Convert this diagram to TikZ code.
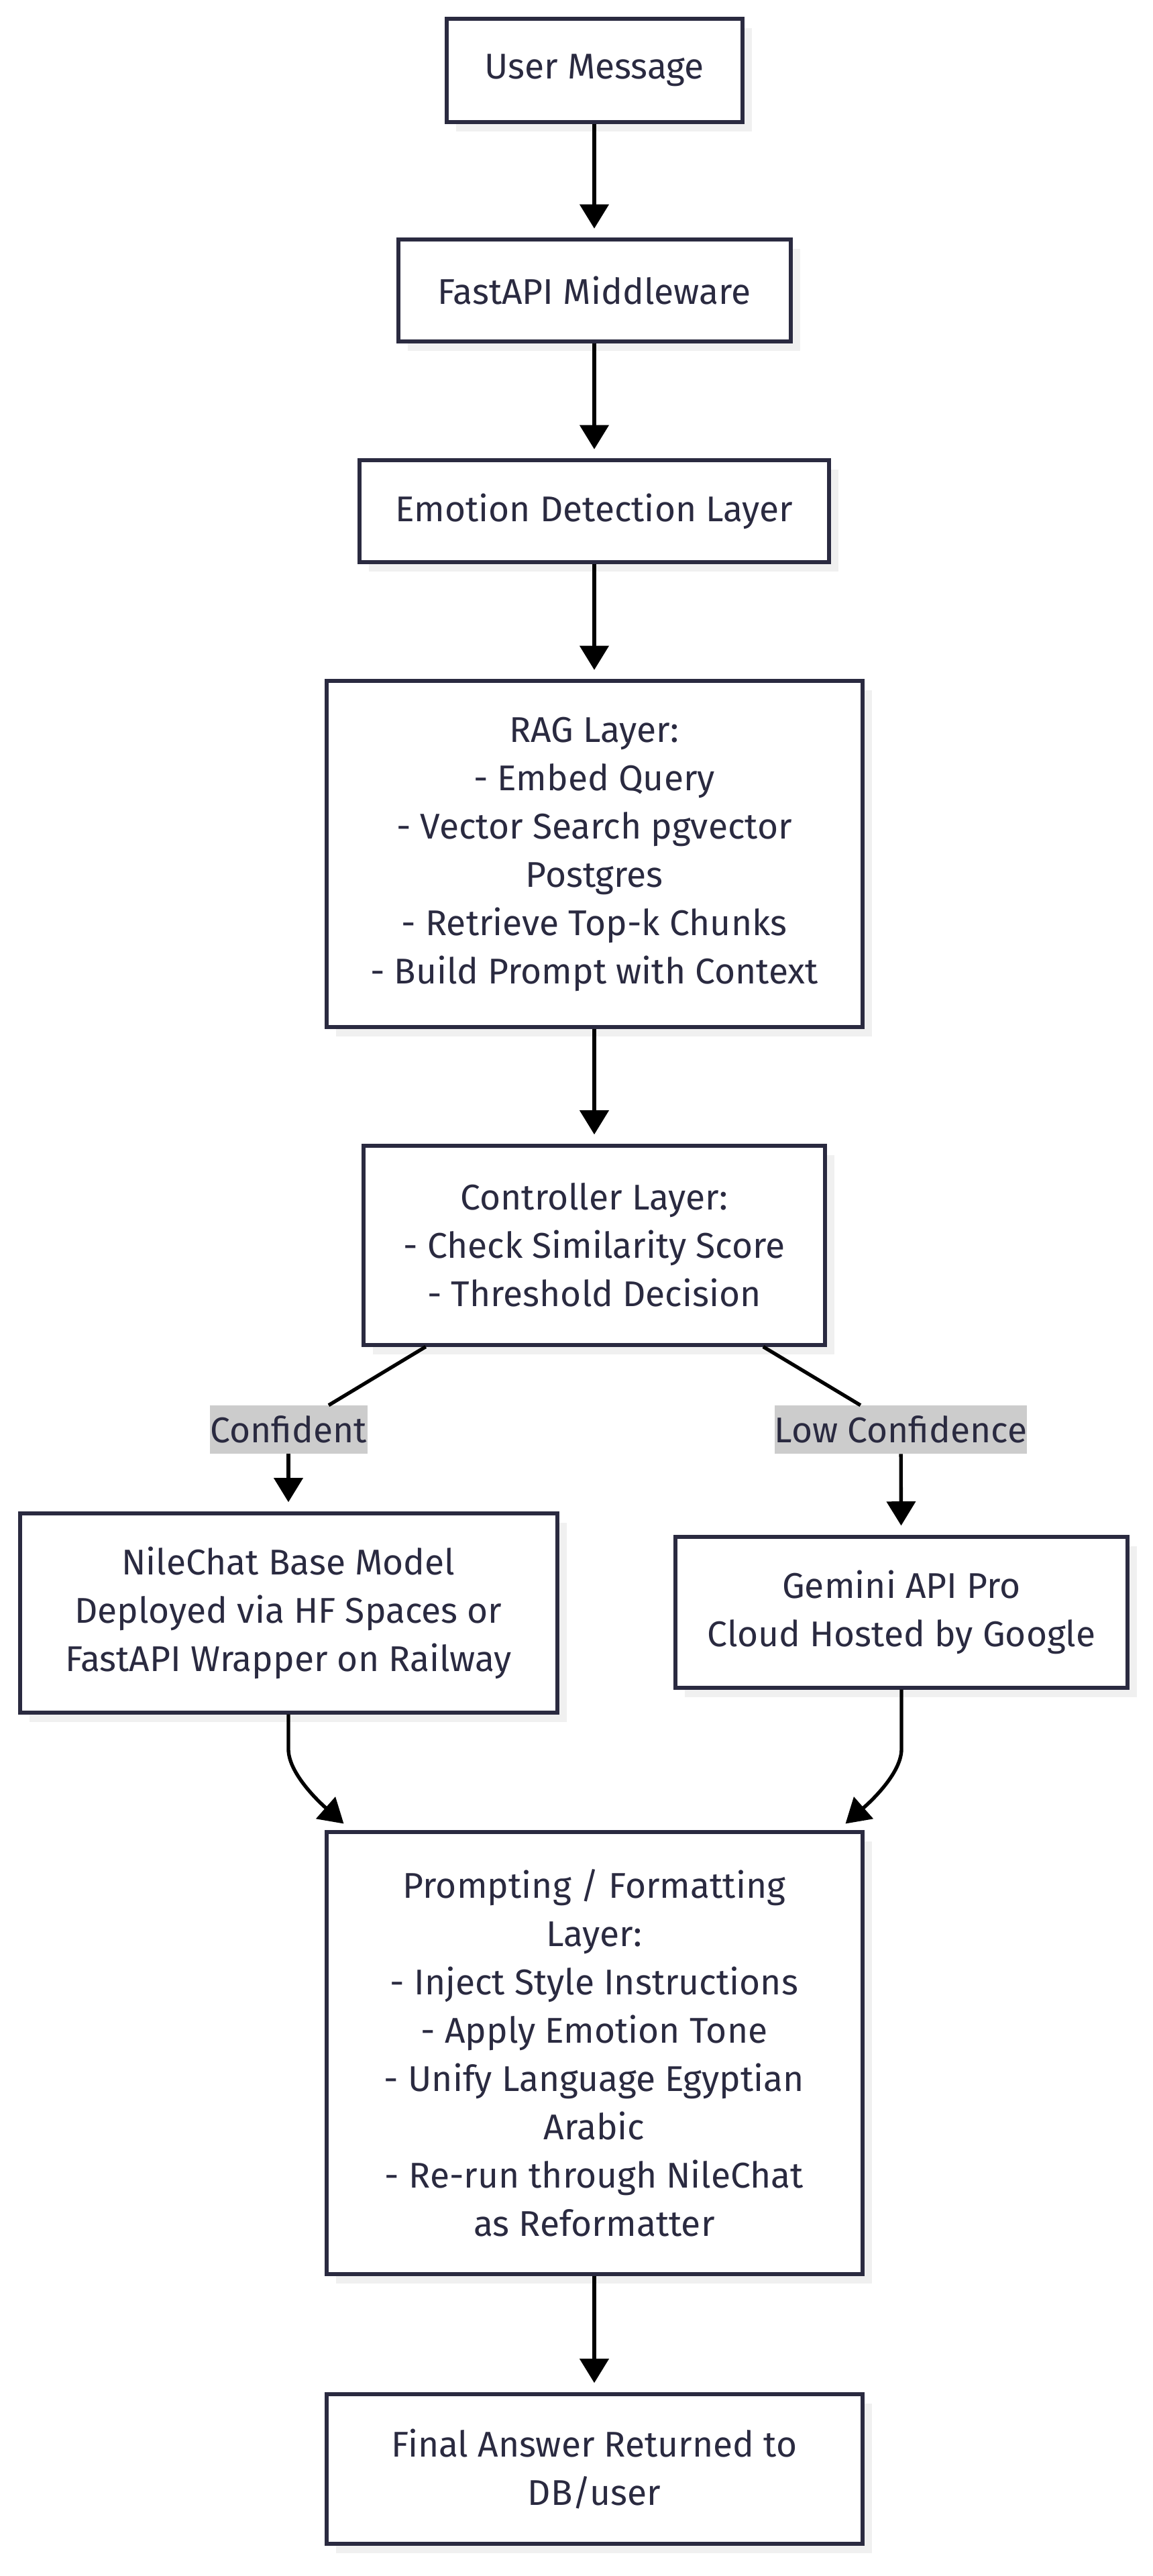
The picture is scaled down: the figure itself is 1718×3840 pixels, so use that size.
\documentclass[tikz,border=0pt]{standalone}
\usepackage{fontspec}
\setmainfont{Fira Sans}
\usetikzlibrary{arrows.meta,shadows,calc}

\definecolor{ink}{RGB}{42,42,64}
\definecolor{shade}{RGB}{240,240,240}
\definecolor{tagfill}{RGB}{204,204,204}

\tikzset{
  box/.style={draw=ink, line width=4.5pt, fill=white, text=ink, align=center,
    inner sep=0pt, font=\fontsize{40}{54}\selectfont,
    drop shadow={shadow xshift=10.5pt, shadow yshift=-10.5pt, fill=shade, opacity=1}},
  tag/.style={fill=tagfill, text=ink, inner sep=0pt, minimum height=54pt,
    font=\fontsize{40}{54}\selectfont},
  arr/.style={-{Triangle[length=27pt,width=32pt]}, line width=4pt, black, shorten >=10pt},
  link/.style={line width=4pt, black}
}

\begin{document}
\begin{tikzpicture}[x=0.75pt,y=0.75pt,yscale=-1,xscale=1]
\useasboundingbox (0,0) rectangle (1718,3840);

% Boxes
\node [box, minimum width=330.75pt, minimum height=115.5pt] (umsg) at (886,105) {User Message};
\node [box, minimum width=438.75pt, minimum height=114pt] (fastapi) at (886,433) {FastAPI Middleware};
\node [box, minimum width=525pt, minimum height=114pt] (emotion) at (886,762) {Emotion Detection Layer};
\node [box, minimum width=599.25pt, minimum height=387pt] (rag) at (886,1273)
  {RAG Layer:\\- Embed Query\\- Vector Search pgvector\\Postgres\\- Retrieve Top-k Chunks\\- Build Prompt with Context};
\node [box, minimum width=516pt, minimum height=222.75pt] (ctrl) at (886,1856)
  {Controller Layer:\\- Check Similarity Score\\- Threshold Decision};
\node [box, minimum width=600.75pt, minimum height=222.75pt] (nile) at (430,2404)
  {NileChat Base Model\\Deployed via HF Spaces or\\FastAPI Wrapper on Railway};
\node [box, minimum width=505.5pt, minimum height=168.75pt] (gemini) at (1344,2403)
  {Gemini API Pro\\Cloud Hosted by Google};
\node [box, minimum width=599.25pt, minimum height=494.25pt] (prompt) at (886,3060)
  {Prompting / Formatting\\Layer:\\- Inject Style Instructions\\- Apply Emotion Tone\\- Unify Language Egyptian\\Arabic\\- Re-run through NileChat\\as Reformatter};
\node [box, minimum width=599.25pt, minimum height=167.25pt] (final) at (886,3680)
  {Final Answer Returned to\\DB/user};

% Edge labels
\node [tag, minimum width=176.25pt] (conf) at (430,2131) {Confident};
\node [tag, minimum width=279.75pt] (lowc) at (1343,2131) {Low Confidence};

% Straight arrows
\draw [arr] (umsg) -- (fastapi);
\draw [arr] (fastapi) -- (emotion);
\draw [arr] (emotion) -- (rag);
\draw [arr] (rag) -- (ctrl);
\draw [arr] (prompt) -- (final);

% Branches
\draw [link] (ctrl) -- (conf);
\draw [link] (ctrl) -- (lowc);
\draw [arr] (conf) -- (nile);
\draw [arr] (lowc) -- (gemini);

% Merging curves
\draw [arr, shorten >=0pt] (nile.south) -- ++(0,52) .. controls +(0,40) and +(-25,-22) .. ($(prompt.north west)+(29,-9)$);
\draw [arr, shorten >=0pt] (gemini.south) -- ++(0,89) .. controls +(0,40) and +(25,-22) .. ($(prompt.north east)+(-28,-9)$);

\end{tikzpicture}
\end{document}
